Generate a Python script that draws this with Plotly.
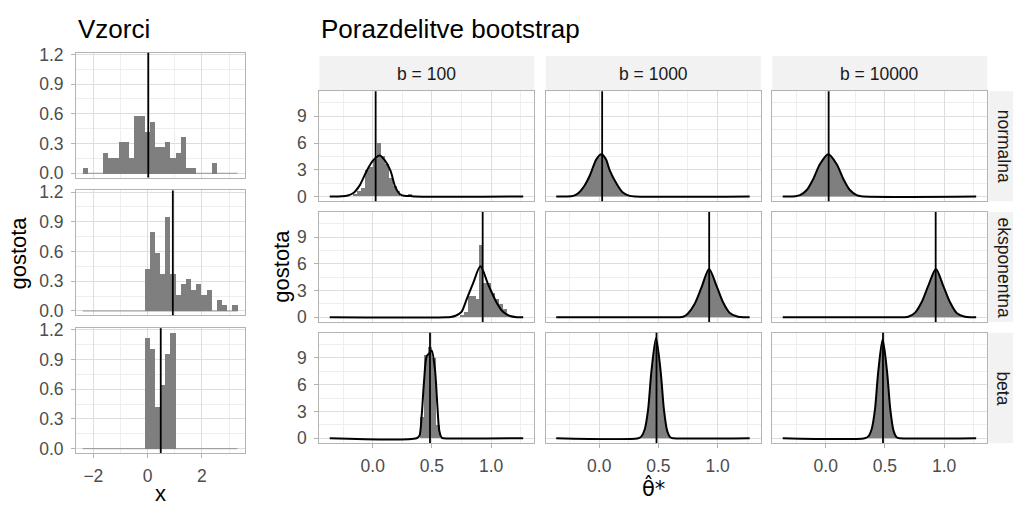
import plotly.graph_objects as go

W, H = 1013, 510

# ---------------- data ----------------
SAMPLE_NAMES = ["normalna", "eksponentna", "beta"]
B_LABELS = ["b = 100", "b = 1000", "b = 10000"]
THETA_HAT = [0.025, 0.929, 0.484]          # vertical lines (sample means)

SAMPLE_BIN_START = -2.396
SAMPLE_BIN_WIDTH = 0.1904
sample_normalna = [0.053, 0, 0, 0, 0.210, 0.158, 0.158, 0.315, 0.315, 0.158,
                   0.578, 0.578, 0.420, 0.525, 0.263, 0.263, 0.315, 0.158, 0.210, 0.368,
                   0.053, 0.053, 0, 0, 0, 0.105, 0, 0, 0, 0]
sample_eksponentna = [0, 0, 0, 0, 0, 0, 0, 0, 0, 0,
                      0, 0, 0.420, 0.788, 0.578, 0.368, 0.945, 0.368, 0.158, 0.263,
                      0.315, 0.210, 0.263, 0.158, 0.210, 0, 0.105, 0.053, 0, 0.053]
sample_beta = [0, 0, 0, 0, 0, 0, 0, 0, 0, 0,
               0, 0, 1.118, 1.010, 0.424, 0.639, 0.952, 1.167, 0, 0,
               0, 0, 0, 0, 0, 0, 0, 0, 0, 0]

BOOT_BIN_START = -0.363
BOOT_BIN_WIDTH = 0.03335
boot100_normalna_first = 6
boot100_normalna = [0.3, 0.6, 0.9, 3.0, 3.3, 4.2, 6.0, 4.5, 3.6, 2.1, 1.2, 0.6, 0, 0, 0.3]
boot100_eksponentna_first = 33
boot100_eksponentna = [0.3, 0.6, 2.4, 2.4, 2.1, 8.1, 3.9, 3.9, 2.7, 2.1, 1.5, 0.9, 0.3]
boot100_beta_first = 23
boot100_beta = [2.4, 9.3, 10.2, 9.0, 1.5]

dens_normalna_b100_x = [-0.363, -0.26, -0.21, -0.16, -0.11, -0.05, 0.0, 0.06, 0.10, 0.15, 0.19, 0.23, 0.28, 0.32, 0.36, 1.271]
dens_normalna_b100_y = [0, 0.02, 0.12, 0.43, 1.25, 2.9, 4.0, 4.6, 4.1, 2.9, 1.1, 0.25, 0.05, 0.06, 0.0, 0]
dens_normalna_b1000_x = [-0.363, -0.28, -0.22, -0.178, -0.122, -0.079, -0.023, 0.019, 0.056, 0.09, 0.146, 0.2, 0.258, 0.31, 1.271]
dens_normalna_b1000_y = [0, 0, 0.07, 0.36, 1.27, 2.36, 4.2, 4.73, 4.2, 2.9, 1.45, 0.44, 0.07, 0, 0]
dens_normalna_b10000_x = [-0.363, -0.30, -0.26, -0.217, -0.16, -0.104, -0.048, 0.022, 0.092, 0.148, 0.204, 0.261, 0.30, 1.271]
dens_normalna_b10000_y = [0, 0, 0.03, 0.15, 0.73, 2.0, 3.64, 4.73, 3.64, 2.0, 0.73, 0.15, 0.03, 0]

dens_eksponentna_b100_x = [-0.363, 0.62, 0.66, 0.70, 0.75, 0.79, 0.85, 0.91, 0.975, 1.045, 1.10, 1.16, 1.22, 1.271]
dens_eksponentna_b100_y = [0, 0, 0.05, 0.18, 0.62, 1.9, 3.9, 5.73, 3.7, 1.7, 0.62, 0.15, 0.02, 0]
dens_eksponentna_b1000_x = [-0.363, 0.62, 0.67, 0.71, 0.75, 0.807, 0.864, 0.928, 0.991, 1.046, 1.103, 1.173, 1.23, 1.271]
dens_eksponentna_b1000_y = [0, 0, 0.02, 0.07, 0.44, 1.53, 3.35, 5.43, 3.53, 1.7, 0.5, 0.07, 0.01, 0]
dens_eksponentna_b10000_x = [-0.363, 0.62, 0.66, 0.697, 0.753, 0.81, 0.866, 0.931, 0.993, 1.05, 1.106, 1.176, 1.23, 1.271]
dens_eksponentna_b10000_y = [0, 0, 0.02, 0.07, 0.5, 1.7, 3.53, 5.43, 3.53, 1.7, 0.5, 0.07, 0.01, 0]

dens_beta_b100_x = [-0.363, 0.37, 0.394, 0.414, 0.433, 0.456, 0.477, 0.498, 0.526, 0.546, 0.563, 0.583, 0.60, 1.271]
dens_beta_b100_y = [0, 0, 0.26, 2.6, 6.27, 9.19, 9.5, 9.84, 7.7, 3.7, 0.8, 0.05, 0, 0]
dens_beta_b1000_x = [-0.363, 0.33, 0.357, 0.385, 0.413, 0.441, 0.48, 0.519, 0.547, 0.575, 0.603, 0.63, 1.271]
dens_beta_b1000_y = [0, 0, 0.2, 1.0, 3.2, 7.5, 11.25, 7.5, 3.2, 0.8, 0.07, 0, 0]
dens_beta_b10000_x = [-0.363, 0.33, 0.36, 0.388, 0.416, 0.444, 0.481, 0.518, 0.546, 0.574, 0.602, 0.63, 1.271]
dens_beta_b10000_y = [0, 0, 0.2, 1.0, 3.2, 7.5, 11.1, 7.5, 3.2, 0.8, 0.07, 0, 0]

FONT = "Liberation Sans, Arial, sans-serif"
BAR = "#7f7f7f"
BORDER = "#b3b3b3"
GRID = "#dedede"
GRID_MINOR = "#eeeeee"
TICKFONT = dict(family=FONT, size=17.5, color="#4d4d4d")


def fx(px):
    return px / W


def fy(py):
    return 1 - py / H


fig = go.Figure()
layout = dict(width=W, height=H, margin=dict(l=0, r=0, t=0, b=0),
              paper_bgcolor="white", plot_bgcolor="white", showlegend=False,
              barmode="overlay", bargap=0, font=dict(family=FONT))
shapes, annotations = [], []


def make_axes(n, xdom, ydom, xr, yr, xdt, ydt, show_x, show_y, yfmt, xfmt):
    sfx = "" if n == 1 else str(n)
    common = dict(showline=True, mirror=True, linecolor=BORDER, linewidth=1,
                  zeroline=False, showgrid=True, gridcolor=GRID, gridwidth=1,
                  fixedrange=True, tickfont=TICKFONT, tickcolor=BORDER, tickwidth=1,
                  ticklen=4)
    layout["xaxis" + sfx] = dict(common, domain=xdom, range=xr, anchor="y" + sfx,
                                 tick0=0, dtick=xdt, tickformat=xfmt,
                                 showticklabels=show_x, ticks="outside" if show_x else "",
                                 ticklabelstandoff=3,
                                 minor=dict(tick0=0, dtick=xdt / 2, showgrid=True,
                                            gridcolor=GRID_MINOR, gridwidth=1))
    layout["yaxis" + sfx] = dict(common, domain=ydom, range=yr, anchor="x" + sfx,
                                 tick0=0, dtick=ydt, tickformat=yfmt,
                                 showticklabels=show_y, ticks="outside" if show_y else "",
                                 ticklabelstandoff=4,
                                 minor=dict(tick0=0, dtick=ydt / 2, showgrid=True,
                                            gridcolor=GRID_MINOR, gridwidth=1))
    return "x" + sfx, "y" + sfx


sample_data = [sample_normalna, sample_eksponentna, sample_beta]
centers = [SAMPLE_BIN_START + (k + 0.5) * SAMPLE_BIN_WIDTH for k in range(len(sample_normalna))]
for i in range(3):
    top = 46 + i * 141.6
    bot = top + 128.3
    xa, ya = make_axes(i + 1, [fx(76), fx(245)], [fy(bot), fy(top)],
                       [-2.64, 3.59], [-0.043, 1.217], 2, 0.3,
                       i == 2, True, ".1f", "d")
    fig.add_trace(go.Scatter(x=[centers[0] - SAMPLE_BIN_WIDTH / 2, centers[-1] + SAMPLE_BIN_WIDTH / 2],
                             y=[0, 0], mode="lines", line=dict(color=BAR, width=0.8),
                             xaxis=xa, yaxis=ya, hoverinfo="skip"))
    fig.add_trace(go.Bar(x=centers, y=sample_data[i], width=[SAMPLE_BIN_WIDTH] * len(centers),
                         marker=dict(color=BAR, line=dict(width=0)), xaxis=xa, yaxis=ya))
    shapes.append(dict(type="line", xref=xa, yref=ya + " domain", x0=THETA_HAT[i], x1=THETA_HAT[i],
                       y0=0, y1=1, line=dict(color="black", width=1.8)))

boot_hist = [(boot100_normalna_first, boot100_normalna),
             (boot100_eksponentna_first, boot100_eksponentna),
             (boot100_beta_first, boot100_beta)]
dens = [[(dens_normalna_b100_x, dens_normalna_b100_y), (dens_normalna_b1000_x, dens_normalna_b1000_y),
         (dens_normalna_b10000_x, dens_normalna_b10000_y)],
        [(dens_eksponentna_b100_x, dens_eksponentna_b100_y), (dens_eksponentna_b1000_x, dens_eksponentna_b1000_y),
         (dens_eksponentna_b10000_x, dens_eksponentna_b10000_y)],
        [(dens_beta_b100_x, dens_beta_b100_y), (dens_beta_b1000_x, dens_beta_b1000_y),
         (dens_beta_b10000_x, dens_beta_b10000_y)]]

n = 4
for i in range(3):
    top = 85.5 + i * 124.25
    bot = top + 113.2
    for j in range(3):
        left = 319.3 + j * 226.5
        right = left + 215
        xa, ya = make_axes(n, [fx(left), fx(right)], [fy(bot), fy(top)],
                           [-0.451, 1.365], [-0.53, 11.82], 0.5, 3,
                           i == 2, j == 0, "d", ".1f")
        dx, dy = dens[i][j]
        if j == 0:
            first, heights = boot_hist[i]
            cx = [BOOT_BIN_START + (first + k + 0.5) * BOOT_BIN_WIDTH for k in range(len(heights))]
            fig.add_trace(go.Bar(x=cx, y=heights, width=[BOOT_BIN_WIDTH] * len(cx),
                                 marker=dict(color=BAR, line=dict(width=0)), xaxis=xa, yaxis=ya))
            fig.add_trace(go.Scatter(x=dx, y=dy, mode="lines",
                                     line=dict(color="black", width=2, shape="spline", smoothing=0.8),
                                     xaxis=xa, yaxis=ya))
        else:
            fig.add_trace(go.Scatter(x=dx, y=dy, mode="lines", fill="tozeroy", fillcolor=BAR,
                                     line=dict(color="black", width=2, shape="spline", smoothing=0.8),
                                     xaxis=xa, yaxis=ya))
        shapes.append(dict(type="line", xref=xa, yref=ya + " domain", x0=THETA_HAT[i], x1=THETA_HAT[i],
                           y0=0, y1=1, line=dict(color="black", width=1.8)))
        n += 1
    shapes.append(dict(type="rect", xref="paper", yref="paper", x0=fx(988.3), x1=fx(1013),
                       y0=fy(bot), y1=fy(top), fillcolor="#f2f2f2", line=dict(width=0), layer="below"))
    annotations.append(dict(text=SAMPLE_NAMES[i], xref="paper", yref="paper", x=fx(1003.5),
                            y=fy((top + bot) / 2), showarrow=False, textangle=90,
                            xanchor="center", yanchor="middle",
                            font=dict(family=FONT, size=17.5, color="#1a1a1a")))

for j in range(3):
    left = 319.3 + j * 226.5
    right = left + 215
    shapes.append(dict(type="rect", xref="paper", yref="paper", x0=fx(left), x1=fx(right),
                       y0=fy(85.5), y1=fy(49.3), fillcolor="#f2f2f2", line=dict(width=0), layer="below"))
    annotations.append(dict(text=B_LABELS[j], xref="paper", yref="paper", x=fx((left + right) / 2),
                            y=fy(67.4), showarrow=False, xanchor="center", yanchor="middle",
                            font=dict(family=FONT, size=17.5, color="#1a1a1a")))

annotations += [
    dict(text="Vzorci", xref="paper", yref="paper", x=fx(76), y=fy(22), showarrow=False,
         xanchor="left", yanchor="middle", font=dict(family=FONT, size=26, color="black")),
    dict(text="Porazdelitve bootstrap", xref="paper", yref="paper", x=fx(319.3), y=fy(22),
         showarrow=False, xanchor="left", yanchor="middle", font=dict(family=FONT, size=26, color="black")),
    dict(text="gostota", xref="paper", yref="paper", x=fx(18.5), y=fy(252), showarrow=False,
         textangle=-90, xanchor="center", yanchor="middle", font=dict(family=FONT, size=22, color="black")),
    dict(text="gostota", xref="paper", yref="paper", x=fx(282), y=fy(266), showarrow=False,
         textangle=-90, xanchor="center", yanchor="middle", font=dict(family=FONT, size=22, color="black")),
    dict(text="x", xref="paper", yref="paper", x=fx(160.5), y=fy(499.5), showarrow=False,
         xanchor="center", yanchor="middle", font=dict(family=FONT, size=22, color="black")),
    dict(text="\u03b8\u0302*", xref="paper", yref="paper", x=fx(653), y=fy(494),
         showarrow=False, xanchor="center", yanchor="middle",
         font=dict(family="DejaVu Sans", size=21, color="black")),
]

layout["shapes"] = shapes
layout["annotations"] = annotations
fig.update_layout(**layout)
fig.write_html("out.html")
